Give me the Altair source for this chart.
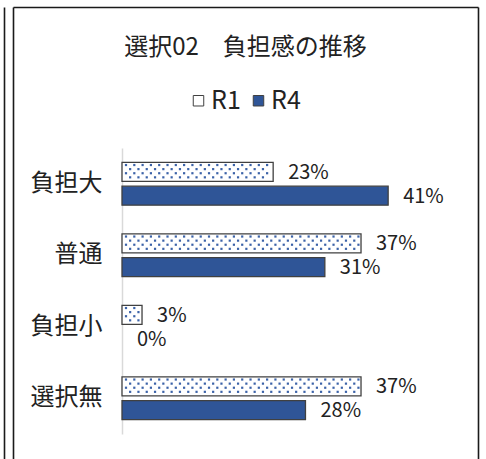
import altair as alt
import pandas as pd

categories = ["負担大", "普通", "負担小", "選択無"]
series = ["R1", "R4"]
r1_values = [0.234, 0.370, 0.031, 0.370]
r4_values = [0.412, 0.314, 0.0, 0.284]
title_text = "選択02　負担感の推移"

rows = []
for c, a, b in zip(categories, r1_values, r4_values):
    rows.append({"cat": c, "series": "R1", "value": a})
    rows.append({"cat": c, "series": "R4", "value": b})
df = pd.DataFrame(rows)

# dotted texture for the R1 bars, derived from the R1 values
DOT_STEP = 0.01285
dot_rows = []
for c, v in zip(categories, r1_values):
    for r in range(4):
        start = 0.0062 if r % 2 == 0 else 0.0126
        k = 0
        while start + k * DOT_STEP < v - 0.003:
            dot_rows.append({"cat": c, "series": "R1", "row": r, "dots": start + k * DOT_STEP})
            k += 1
dots_df = pd.DataFrame(dot_rows)

FONT = "Noto Sans CJK JP"
TXT = "#222222"
BLUE = "#2f5597"
W, H = 323, 286

x_scale = alt.Scale(domain=[0, 0.5], nice=False)
y_scale = alt.Scale(paddingInner=0.4, paddingOuter=0.2)
yo_scale = alt.Scale(domain=series, paddingInner=0.2)

x_enc = alt.X("value:Q", scale=x_scale, axis=None)
y_enc = alt.Y(
    "cat:N", sort=categories, title=None, scale=y_scale,
    axis=alt.Axis(labelFont=FONT, labelFontSize=24, labelColor=TXT, labelPadding=20,
                  ticks=False, domainColor="#d9d9d9", domainWidth=1.5, grid=False),
)
yoff_enc = alt.YOffset("series:N", sort=series, scale=yo_scale)

base = alt.Chart(df)

bars = base.mark_bar(stroke="#404040", strokeWidth=1.3).encode(
    x=x_enc, y=y_enc, yOffset=yoff_enc,
    strokeOpacity=alt.condition("datum.value == 0", alt.value(0), alt.value(1)),
    fill=alt.Fill("series:N", sort=series,
                  scale=alt.Scale(domain=series, range=["#ffffff", BLUE]),
                  legend=alt.Legend(title=None, orient="none", direction="horizontal",
                                    legendX=64, legendY=-60, padding=0, symbolType="square",
                                    symbolSize=110, symbolStrokeColor="#404040",
                                    symbolStrokeWidth=1, labelFont=FONT, labelFontSize=25,
                                    labelColor=TXT, labelOffset=0, columnPadding=5)),
)

# each dot row is a tiny square path shifted inside the R1 bar (symbol scale: 5 px per unit)
dot_layers = []
row_units = [-1.36, -0.54, 0.28, 1.10]
for r, u in enumerate(row_units):
    path = f"M-0.22,{u - 0.22:.2f}h0.44v0.44h-0.44z"
    dl = alt.Chart(dots_df).transform_filter(f"datum.row == {r}").mark_point(
        shape=path, size=100, filled=True, color="#3b62a8", opacity=1, strokeWidth=0
    ).encode(
        x=alt.X("dots:Q", scale=x_scale, axis=None),
        y=alt.Y("cat:N", sort=categories, scale=y_scale, title=None),
        yOffset=yoff_enc,
    )
    dot_layers.append(dl)

labels = base.mark_text(align="left", baseline="middle", dx=15, dy=1,
                        font=FONT, fontSize=20, color=TXT).encode(
    x=x_enc, y=y_enc, yOffset=yoff_enc,
    text=alt.Text("value:Q", format=".0%"),
)

one = alt.Chart(pd.DataFrame({"a": [0]}))
FRAME = "#1a1a1a"
frame = [
    one.mark_rule(color=FRAME, strokeWidth=1.6).encode(
        x=alt.value(-117.5), y=alt.value(-140.5), y2=alt.value(330)),
    one.mark_rule(color=FRAME, strokeWidth=1.6).encode(
        x=alt.value(-108.5), y=alt.value(-140.5), y2=alt.value(330)),
    one.mark_rule(color=FRAME, strokeWidth=1.6).encode(
        x=alt.value(356.5), y=alt.value(-140.5), y2=alt.value(330)),
    one.mark_rule(color=FRAME, strokeWidth=1.6).encode(
        x=alt.value(-108.5), x2=alt.value(356.5), y=alt.value(-140.5)),
]

chart = alt.layer(bars, *dot_layers, labels, *frame).properties(
    width=W, height=H,
    title=alt.Title(title_text, font=FONT, fontSize=24, fontWeight="normal",
                    color=TXT, anchor="middle", dx=-38, dy=57),
    autosize=alt.AutoSizeParams(type="none"),
    padding={"left": 122, "top": 148, "right": 41, "bottom": 25},
    background="white",
).configure_view(stroke=None)

chart.save("out.html", embed_options={"renderer": "svg", "actions": False})
